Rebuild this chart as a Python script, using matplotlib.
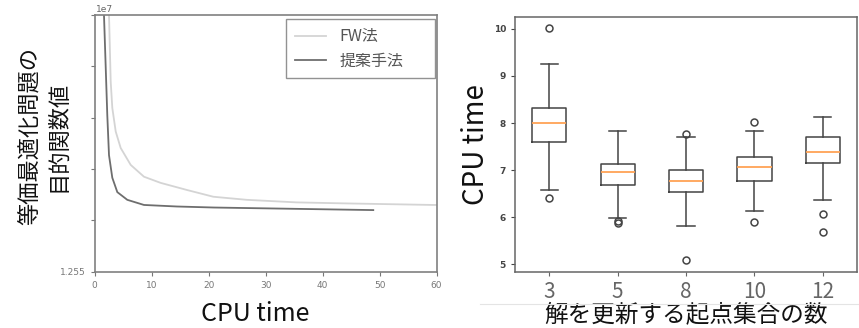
import numpy as np
import matplotlib.pyplot as plt
from matplotlib.lines import Line2D

plt.rcParams['font.family'] = ['Noto Sans CJK JP', 'DejaVu Sans']

# left panel: objective value vs CPU time (values in 1e7 units)
fw_t = [2.45, 2.51, 2.81, 3.09, 3.69, 4.56, 6.32, 8.65, 11.58, 16.25, 20.82,
        26.68, 35.46, 44.23, 59.4, 62.0]
fw_v = [1.2603, 1.2600, 1.25870, 1.25819, 1.25773, 1.25741, 1.25708, 1.25685,
        1.25673, 1.25659, 1.25646, 1.25640, 1.25635, 1.25633, 1.25630, 1.25630]
prop_t = [1.60, 1.63, 2.21, 2.51, 3.09, 3.97, 5.72, 8.65, 14.45, 20.94, 48.9]
prop_v = [1.2603, 1.2600, 1.25805, 1.25727, 1.25683, 1.25655, 1.25640,
          1.25630, 1.25627, 1.25625, 1.25620]
left_yticks = [1.255, 1.256, 1.257, 1.258, 1.259, 1.260]
left_ytick_labels = ['1.255', '', '', '', '', '']

# right panel: box plot stats per start-set size
groups = ['3', '5', '8', '10', '12']
whis_lo = [6.58, 5.99, 5.82, 6.13, 6.36]
q1 = [7.60, 6.68, 6.54, 6.78, 7.16]
med = [8.01, 6.97, 6.78, 7.07, 7.39]
q3 = [8.32, 7.14, 7.01, 7.28, 7.70]
whis_hi = [9.26, 7.83, 7.71, 7.83, 8.13]
fliers = [[10.02, 6.42], [5.93, 5.89], [7.76, 5.09], [8.03, 5.90], [6.07, 5.69]]

fig = plt.figure(figsize=(8.59, 3.28), dpi=100)

# ---- left chart
ax1 = fig.add_axes([94.7 / 859, 56.3 / 328, 341.8 / 859, 256.7 / 328])
ax1.plot(fw_t, np.array(fw_v) * 1e7, color='#d4d4d4', lw=1.3, label='FW法')
ax1.plot(prop_t, np.array(prop_v) * 1e7, color='#6e6e6e', lw=1.3, label='提案手法')
ax1.set_xlim(0, 60)
ax1.set_ylim(1.255e7, 1.260e7)
ax1.set_yticks(np.array(left_yticks) * 1e7)
ax1.set_yticklabels(left_ytick_labels)
ax1.text(0.005, 1.005, '1e7', transform=ax1.transAxes, fontsize=6.5,
         color='#666666', family='DejaVu Sans', va='bottom', ha='left')
ax1.tick_params(labelsize=6.5, colors='#777777', length=3, width=0.8)
for lbl in ax1.get_xticklabels() + ax1.get_yticklabels():
    lbl.set_family('DejaVu Sans')
for s in ax1.spines.values():
    s.set_color('#808080')
    s.set_linewidth(1.2)
leg = ax1.legend(loc='upper left', fontsize=11.5, handlelength=2.0,
                 fancybox=False, edgecolor='#777777', borderpad=0.55,
                 labelspacing=0.45, handletextpad=0.8, borderaxespad=0,
                 mode='expand', bbox_to_anchor=(0.559, 0.751, 0.4366, 0.232))
leg.get_frame().set_linewidth(1.0)
for t in leg.get_texts():
    t.set_color('#555555')
ax1.set_xlabel('CPU time', fontsize=18, color='#111111')
ax1.xaxis.set_label_coords((255 - 94.7) / 341.8, -0.115)
fig.text(44 / 859, 1 - 136 / 328, '等価最適化問題の\n目的関数値', rotation=90,
         fontsize=16, ha='center', va='center', linespacing=1.25,
         color='#111111', multialignment='center')

# ---- right chart
ax2 = fig.add_axes([515 / 859, 56 / 328, 342 / 859, 255 / 328])
stats = []
for i, g in enumerate(groups):
    stats.append(dict(label=g, whislo=whis_lo[i], q1=q1[i], med=med[i],
                      q3=q3[i], whishi=whis_hi[i], fliers=fliers[i]))
ax2.bxp(stats, widths=0.5,
        boxprops=dict(color='#444444', lw=1.1),
        whiskerprops=dict(color='#444444', lw=1.1),
        capprops=dict(color='#444444', lw=1.1),
        medianprops=dict(color='#ffa255', lw=1.3),
        flierprops=dict(marker='o', markerfacecolor='none',
                        markeredgecolor='#444444', markersize=5, mew=1.1))
ax2.set_ylim(4.84, 10.25)
ax2.set_yticks([5, 6, 7, 8, 9, 10])
ax2.tick_params(axis='y', labelsize=6.5, colors='#444444', length=3, width=0.8)
ax2.tick_params(axis='x', labelsize=15, colors='#666666', length=3, width=0.8)
for lbl in ax2.get_yticklabels():
    lbl.set_family('DejaVu Sans')
    lbl.set_fontweight('bold')
for s in ax2.spines.values():
    s.set_color('#666666')
    s.set_linewidth(1.1)
ax2.set_ylabel('CPU time', fontsize=20, labelpad=2, color='#111111')
ax2.set_xlabel('解を更新する起点集合の数', fontsize=17, labelpad=0,
               color='#111111')

fig.add_artist(Line2D([480 / 859, 1.0], [1 - 304 / 328, 1 - 304 / 328],
                      transform=fig.transFigure, color='#e4e4e4', lw=0.8))

fig.savefig('out.png', dpi=100)
